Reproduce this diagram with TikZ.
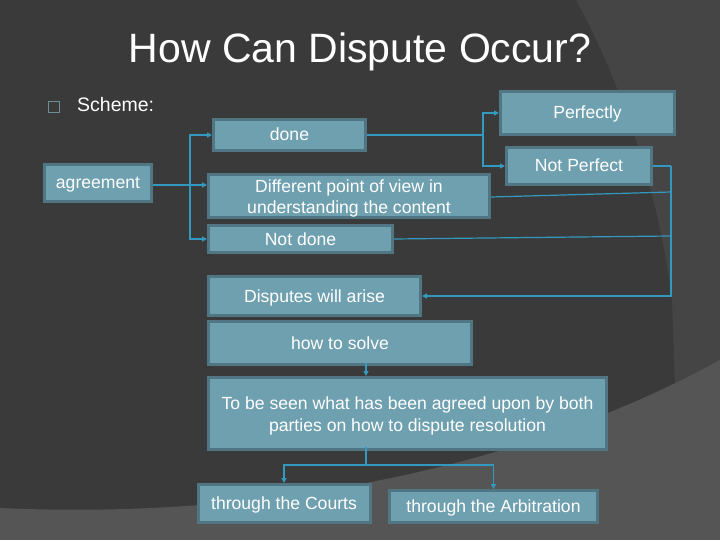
\documentclass[tikz,border=0pt]{standalone}
\usepackage{fontspec}
\setmainfont{Liberation Sans}
\usetikzlibrary{arrows.meta}
\definecolor{bgdark}{HTML}{3A3A3A}
\definecolor{bgmid}{HTML}{454545}
\definecolor{bglight}{HTML}{555555}
\definecolor{boxfill}{HTML}{6FA0AF}
\definecolor{boxborder}{HTML}{4F7682}
\definecolor{linec}{HTML}{3499BF}
\definecolor{bulletc}{HTML}{6E8E96}
\begin{document}
\begin{tikzpicture}[x=1pt,y=-1pt,
  box/.style={draw=boxborder, fill=boxfill, line width=3pt, text=white,
    font=\fontsize{17.6}{21.5}\selectfont, inner sep=0pt, align=center},
  onebox/.style={box, text height=15pt, text depth=3pt},
  conn/.style={draw=linec, line width=1.8pt},
  thin conn/.style={draw=linec, line width=1.2pt},
  arr/.style={-{Triangle[length=5pt,width=5pt]}}
]
% background
\useasboundingbox (0,0) rectangle (720,540);
\fill[bgdark] (0,0) rectangle (720,540);
\fill[bgmid] (576,0) .. controls (625,90) and (660,200) .. (672,300) -- (680,540) -- (720,540) -- (720,0) -- cycle;
\fill[bglight] (0,508) .. controls (260,520) and (520,470) .. (720,360) -- (720,540) -- (0,540) -- cycle;

% title and bullet
\node[text=white, font=\fontsize{41}{48}\selectfont, inner sep=0pt, anchor=base] (title) at (360,63) {How Can Dispute Occur?};
\node[draw=bulletc, line width=1pt, minimum size=11pt, inner sep=0pt] (bullet) at (54,107) {};
\node[text=white, font=\fontsize{19.5}{23}\selectfont, inner sep=0pt, anchor=base west] (scheme) at (77,112) {Scheme:};

% boxes
\node[onebox, minimum width=107pt, minimum height=37pt] (agree) at (98,183) {agreement};
\node[onebox, minimum width=152pt, minimum height=31pt] (done) at (289.5,135) {done};
\node[box, minimum width=281pt, minimum height=43pt] (diff) at (349,196) {};
\node[font=\fontsize{17.6}{21.5}\selectfont, text=white, align=center, inner sep=0pt] (difftext) at (349,198.5) {Different point of view in\\understanding the content};
\node[onebox, minimum width=184pt, minimum height=27pt] (notdone) at (300.5,239) {Not done};
\node[onebox, minimum width=174pt, minimum height=43pt] (perf) at (587.5,113) {Perfectly};
\node[onebox, minimum width=145pt, minimum height=37pt] (notperf) at (579,166) {Not Perfect};
\node[onebox, minimum width=212pt, minimum height=39pt] (disp) at (314.5,296) {Disputes will arise};
\node[onebox, minimum width=263pt, minimum height=43pt] (how) at (340,343) {how to solve};
\node[box, minimum width=398pt, minimum height=72pt] (seen) at (407.5,413.5) {};
\node[font=\fontsize{17.6}{21.5}\selectfont, text=white, align=center, inner sep=0pt] (seentext) at (407.5,416) {To be seen what has been agreed upon by both\\parties on how to dispute resolution};
\node[onebox, minimum width=172pt, minimum height=38pt] (courts) at (284,503.5) {through the Courts};
\node[onebox, minimum width=208pt, minimum height=32pt] (arb) at (493.5,506.5) {through the Arbitration};

% junction coordinates
\coordinate (j1) at (190,185);
\coordinate (j2) at (483,135);
\coordinate (j3) at (671,166);
\coordinate (j3a) at (671,192);
\coordinate (j3b) at (671,236);
\coordinate (j4) at (366,0);
\coordinate (j5) at (366,465);

% agreement branches
\draw[conn] (agree.east |- j1) -- (j1);
\draw[conn, arr] (j1) |- (done.west);
\draw[conn, arr] (j1) -- (diff.west |- j1);
\draw[conn, arr] (j1) |- (notdone.west);

% done branches
\draw[thin conn] (done.east) -- (j2);
\draw[conn, arr] (j2) |- (perf.west);
\draw[conn, arr] (j2) |- (notperf.west);

% into disputes
\draw[conn] (notperf.east) -- (j3);
\draw[thin conn] ([yshift=-1pt]diff.east) -- (j3a);
\draw[thin conn] (notdone.east) -- (j3b);
\draw[conn, arr] (j3) |- (disp.east);

% how to solve -> to be seen
\draw[conn, arr] ([yshift=3pt]how.south -| j4) -- (seen.north -| j4);

% to be seen -> outcomes
\draw[conn] ([yshift=4pt]seen.south -| j4) -- (j5);
\draw[conn, arr] (j5) -| (courts.north);
\draw[conn, arr] (j5) -| (arb.north);
\end{tikzpicture}
\end{document}
